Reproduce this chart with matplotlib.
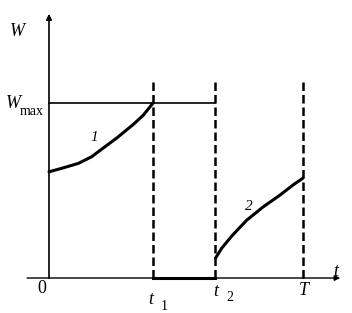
import matplotlib.pyplot as plt

# time marks (t1 = 1)
t1 = 1.0
t2 = 1.6
T = 2.44
w_max = 1.0

# curve 1: from 0 to t1
curve1_t = [0.0, 0.122, 0.282, 0.41, 0.51, 0.651, 0.811, 0.907, 1.0]
curve1_w = [0.607, 0.627, 0.655, 0.693, 0.738, 0.8, 0.878, 0.931, 1.0]

# curve 2: from t2 to T
curve2_t = [1.6, 1.66, 1.757, 1.9, 2.06, 2.221, 2.349, 2.44]
curve2_w = [0.113, 0.17, 0.24, 0.33, 0.407, 0.474, 0.533, 0.57]

plt.rcParams['font.family'] = 'Liberation Serif'

fig = plt.figure(figsize=(3.52, 3.13), dpi=100)
ax = fig.add_axes([0, 0, 1, 1])
ax.set_xlim(-0.471, 2.913)
ax.set_ylim(-0.2, 1.589)
ax.axis('off')

# axes with arrows
ax.annotate('', xy=(0, 1.51), xytext=(0, 0),
            arrowprops=dict(arrowstyle='-|>', color='black', lw=1.2,
                            mutation_scale=8, shrinkA=0, shrinkB=0))
ax.annotate('', xy=(2.8, 0), xytext=(-0.21, 0),
            arrowprops=dict(arrowstyle='-|>', color='black', lw=1.0,
                            mutation_scale=8, shrinkA=0, shrinkB=0))

# W_max level
ax.plot([0, t2], [w_max, w_max], color='black', lw=1.2)

# dashed verticals
for tv in [t1, t2, T]:
    ax.plot([tv, tv], [0, 1.137], color='black', lw=1.8, dashes=(3.4, 1.6))

# zero segment between t1 and t2
ax.plot([t1, t2], [0, 0], color='black', lw=2.2)

ax.plot(curve1_t, curve1_w, color='black', lw=2.2, solid_capstyle='round',
        solid_joinstyle='round')
ax.plot(curve2_t, curve2_w, color='black', lw=2.2, solid_capstyle='round',
        solid_joinstyle='round')

# labels
ax.text(-0.3, 1.408, 'W', fontsize=13, style='italic', ha='center', va='center')
ax.text(-0.34, 1.0, 'W', fontsize=13, style='italic', ha='center', va='center')
ax.text(-0.17, 0.95, 'max', fontsize=10, ha='center', va='center')
ax.text(-0.07, -0.06, '0', fontsize=13, ha='center', va='center')
ax.text(0.98, -0.12, 't', fontsize=13, style='italic', ha='center', va='center')
ax.text(1.11, -0.16, '1', fontsize=10, ha='center', va='center')
ax.text(1.6, -0.075, 't', fontsize=13, style='italic', ha='center', va='center')
ax.text(1.74, -0.11, '2', fontsize=10, ha='center', va='center')
ax.text(2.45, -0.07, 'T', fontsize=13, style='italic', ha='center', va='center')
ax.text(2.76, 0.04, 't', fontsize=13, style='italic', ha='center', va='center')
ax.text(0.44, 0.805, '1', fontsize=11, style='italic', ha='center', va='center')
ax.text(1.92, 0.406, '2', fontsize=11, style='italic', ha='center', va='center')

plt.savefig('out.png', dpi=100)
